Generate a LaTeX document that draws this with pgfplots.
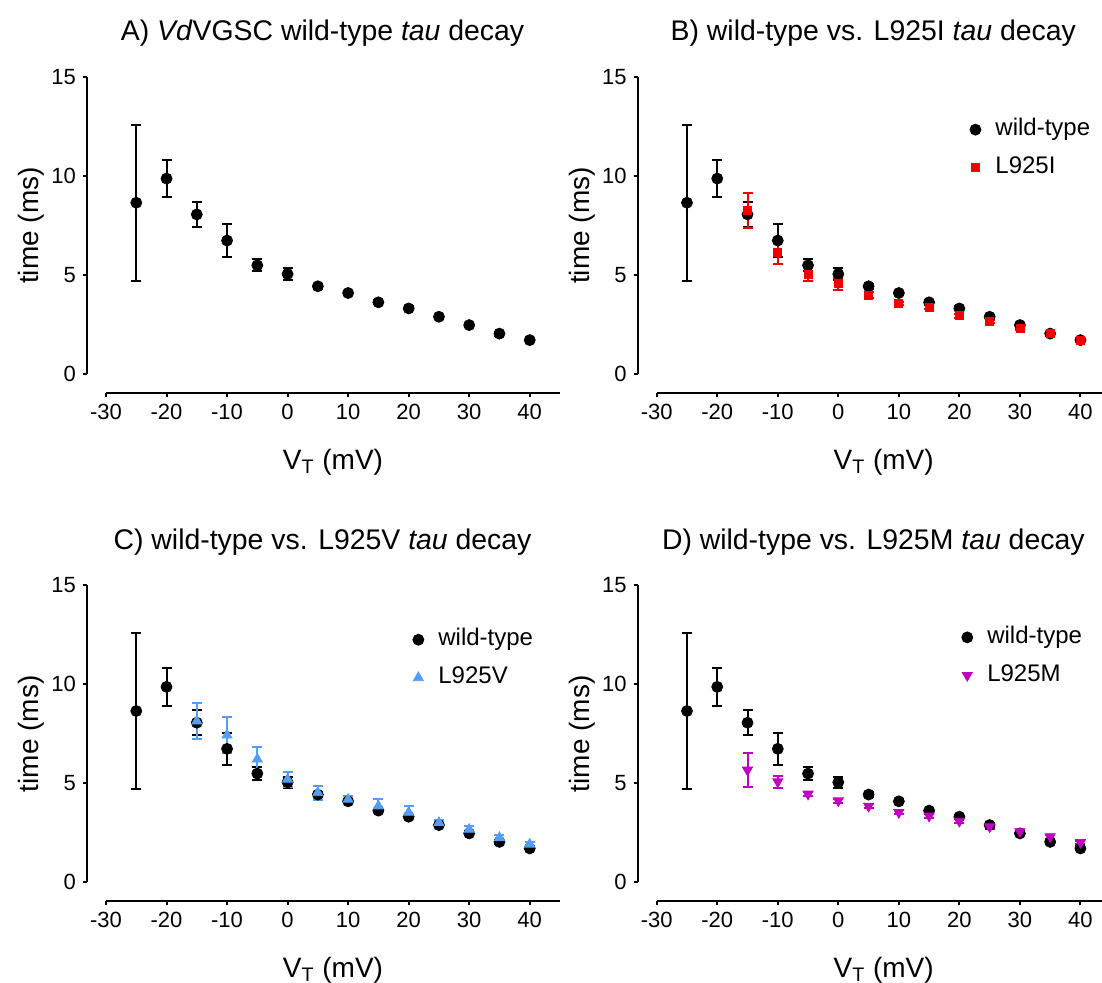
\documentclass[border=0pt]{standalone}
\usepackage{fontspec}
\setmainfont{Liberation Sans}
\usepackage{pgfplots}
\usepackage{pgfplotstable}
\pgfplotsset{compat=1.18}

\definecolor{mred}{RGB}{240,0,0}
\definecolor{mblue}{RGB}{86,156,240}
\definecolor{mmag}{RGB}{192,0,192}

% x = test potential (mV), y = tau (ms), e = SEM
\pgfplotstableread{
x y e
-25 8.65 3.95
-20 9.87 0.95
-15 8.06 0.62
-10 6.74 0.82
-5 5.49 0.31
0 5.05 0.28
5 4.43 0.12
10 4.09 0.10
15 3.62 0.10
20 3.31 0.10
25 2.89 0.10
30 2.47 0.10
35 2.04 0.10
40 1.71 0.10
}\wt

\pgfplotstableread{
x y e
-15 8.26 0.90
-10 6.13 0.57
-5 5.05 0.33
0 4.55 0.30
5 3.99 0.15
10 3.56 0.10
15 3.36 0.10
20 2.94 0.10
25 2.65 0.10
30 2.32 0.10
35 2.04 0.10
40 1.71 0.10
}\lI

\pgfplotstableread{
x y e
-15 8.14 0.90
-10 7.43 0.90
-5 6.22 0.60
0 5.20 0.38
5 4.52 0.36
10 4.19 0.15
15 3.85 0.37
20 3.53 0.34
25 3.01 0.15
30 2.67 0.15
35 2.25 0.15
40 1.92 0.10
}\lV

\pgfplotstableread{
x y e
-15 5.67 0.85
-10 5.08 0.30
-5 4.46 0.12
0 4.12 0.10
5 3.85 0.10
10 3.53 0.10
15 3.35 0.10
20 3.09 0.10
25 2.81 0.10
30 2.56 0.10
35 2.31 0.10
40 2.01 0.10
}\lM

\pgfplotsset{
  prism/.style={
    scale only axis, width=227pt, height=148.5pt, anchor=south west,
    xmin=-30, xmax=45, ymin=0, ymax=15,
    axis lines=left, axis line style={-, line width=1pt},
    axis x line shift=9.5pt, axis y line shift=9.5pt,
    xtick={-30,-20,...,40}, ytick={0,5,10,15},
    tick align=outside, major tick length=2pt,
    every tick/.style={black, line width=1pt},
    tick label style={font=\fontsize{11}{12}\selectfont},
    /pgf/number format/assume math mode=true,
    xlabel={V\textsubscript{T} (mV)}, ylabel={time (ms)},
    label style={font=\fontsize{14}{16}\selectfont},
    xlabel style={at={(rel axis cs:0.5,-0.32)}, anchor=base},
    ylabel style={at={(rel axis cs:-0.1476,0.5)}, anchor=base},
    title style={font=\fontsize{14.2}{16}\selectfont, at={(rel axis cs:0.477,1.081)}, anchor=base, yshift=0pt},
    clip=false,
    legend cell align=left,
    legend style={draw=none, fill=none, inner sep=0pt, row sep=8pt,
      font=\fontsize{12}{13}\selectfont, anchor=north west,
      nodes={inner sep=0pt, text height=8.5pt, text depth=2.5pt}},
  },
  pts/.style={only marks, #1,
    error bars/.cd, y dir=both, y explicit,
    error mark=-, error bar style={line width=1pt, #1},
    error mark options={rotate=90, mark size=2.5pt, line width=1pt, #1},
    /pgfplots/.cd,
    legend image code/.code={\draw[##1] plot coordinates {(0pt,0pt)}; \path[draw=none] (-3pt,0pt) rectangle (10pt,0.01pt);}},
  wtp/.style={pts=black, mark=*, mark size=2.75pt},
}

\begin{document}
\begin{tikzpicture}
\useasboundingbox (0,0) rectangle (551pt,491.5pt);

\begin{axis}[prism, at={(53pt,304.5pt)},
  title={A) \textit{Vd}VGSC wild-type \textit{tau} decay}]
\addplot[wtp] table[x=x, y=y, y error=e] {\wt};
\end{axis}

\begin{axis}[prism, at={(328.35pt,304.5pt)},
  title={B) wild-type vs. L925I \textit{tau} decay},
  legend style={at={(rel axis cs:0.688,0.861)}}]
\addplot[wtp] table[x=x, y=y, y error=e] {\wt};
\addplot[pts=mred, mark=square*, mark size=2pt] table[x=x, y=y, y error=e] {\lI};
\legend{wild-type, L925I}
\end{axis}

\begin{axis}[prism, at={(53pt,50.35pt)},
  title={C) wild-type vs. L925V \textit{tau} decay},
  legend style={at={(rel axis cs:0.674,0.855)}}]
\addplot[wtp] table[x=x, y=y, y error=e] {\wt};
\addplot[pts=mblue, mark=triangle*, mark size=2.9pt] table[x=x, y=y, y error=e] {\lV};
\legend{wild-type, L925V}
\end{axis}

\begin{axis}[prism, at={(328.35pt,50.35pt)},
  title={D) wild-type vs. L925M \textit{tau} decay},
  legend style={at={(rel axis cs:0.670,0.863)}}]
\addplot[wtp] table[x=x, y=y, y error=e] {\wt};
\addplot[pts=mmag, mark=triangle*, mark size=2.9pt, mark options={rotate=180}] table[x=x, y=y, y error=e] {\lM};
\legend{wild-type, L925M}
\end{axis}
\end{tikzpicture}
\end{document}
